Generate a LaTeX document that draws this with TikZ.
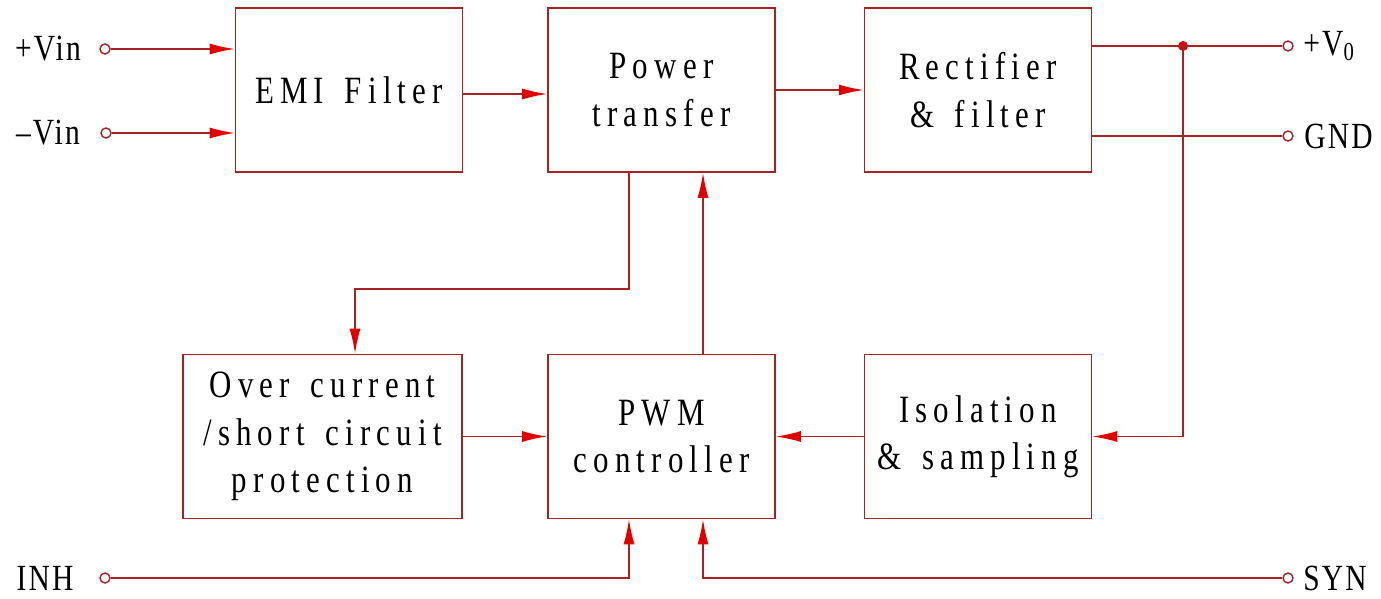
\documentclass[tikz,border=0pt]{standalone}
\usepackage{fontspec}
\setmainfont{Liberation Serif}[FakeStretch=0.8,LetterSpace=16,WordSpace=1.5]
\usetikzlibrary{arrows.meta}
\definecolor{wire}{RGB}{165,35,35}
\definecolor{tip}{RGB}{225,0,0}
\tikzset{
  blk/.style={draw=wire,line width=0.9pt,minimum width=4.54cm,minimum height=3.28cm,align=center,font=\fontsize{22}{27}\selectfont,inner sep=0pt},
  wirestyle/.style={draw=wire,line width=0.9pt},
  arr/.style={wirestyle,-{Latex[length=0.5cm,width=0.22cm,color=tip]}},
  term/.style={circle,draw=wire,line width=0.8pt,fill=white,inner sep=0pt,minimum size=0.2cm},
  lbl/.style={font=\fontsize{21}{24}\selectfont\addfontfeatures{LetterSpace=6},inner sep=0pt},
  junc/.style={circle,fill=tip,inner sep=0pt,minimum size=0.2cm}
}
\begin{document}
\begin{tikzpicture}[x=0.02cm,y=-0.02cm]
\useasboundingbox (0,0) rectangle (1381,598);
% blocks
\node[blk] (emi) at (349,90) {EMI Filter};
\node[blk] (pt) at (661.5,90) {Power\\transfer};
\node[blk] (rf) at (978,90) {Rectifier\\\& filter};
\node[blk,minimum width=5.58cm] (oc) at (322.5,436.5) {Over current\\/short circuit\\protection};
\node[blk] (pwm) at (661.5,436.5) {PWM\\controller};
\node[blk] (iso) at (978,436.5) {Isolation\\\& sampling};
% terminals
\node[term] (vinp) at (105,49) {};
\node[term] (vinm) at (106,133) {};
\node[term] (vo) at (1288,46) {};
\node[term] (gnd) at (1288,136) {};
\node[term] (inh) at (105,578) {};
\node[term] (syn) at (1288,578) {};
% labels
\node[lbl] (lvinp) at (48,49) {+Vin};
\node[lbl] (lvinm) at (48,133) {–Vin};
\node[lbl,anchor=west] (lvo) at (1303,46) {+V\textsubscript{0}};
\node[lbl,anchor=west] (lgnd) at (1304,136) {GND};
\node[lbl] (linh) at (45,578) {INH};
\node[lbl,anchor=west] (lsyn) at (1303,578) {SYN};
% coordinates
\coordinate (j) at (1183,46);
\coordinate (ptb) at (629,172);
\coordinate (ptbl) at (629,289);
\coordinate (ocl) at (355,289);
\node[junc] (jd) at (j) {};
% connectors
\draw[arr] (vinp) -- (vinp -| emi.west);
\draw[arr] (vinm) -- (vinm -| emi.west);
\draw[arr] ([yshift=-0.08cm]emi.east) -- ([yshift=-0.08cm]pt.west);
\draw[arr] (pt.east) -- (rf.west);
\draw[wirestyle] (vo -| rf.east) -- (vo);
\draw[wirestyle] (gnd -| rf.east) -- (gnd);
\draw[arr] (jd.center) -- (j |- iso.east) -- (iso.east);
\draw[arr] (iso.west) -- (pwm.east);
\draw[arr] (oc.east) -- (pwm.west);
\draw[arr] ([xshift=0.83cm]pwm.north) -- ([xshift=0.83cm]pt.south);
\draw[arr] (ptb) -- (ptbl) -- (ocl) -- (ocl |- oc.north);
\draw[arr] (inh) -- (inh -| ptb) -- (ptb |- pwm.south);
\draw[arr] (syn) -- ([xshift=0.83cm]syn -| pwm.south) -- ([xshift=0.83cm]pwm.south);
\end{tikzpicture}
\end{document}
